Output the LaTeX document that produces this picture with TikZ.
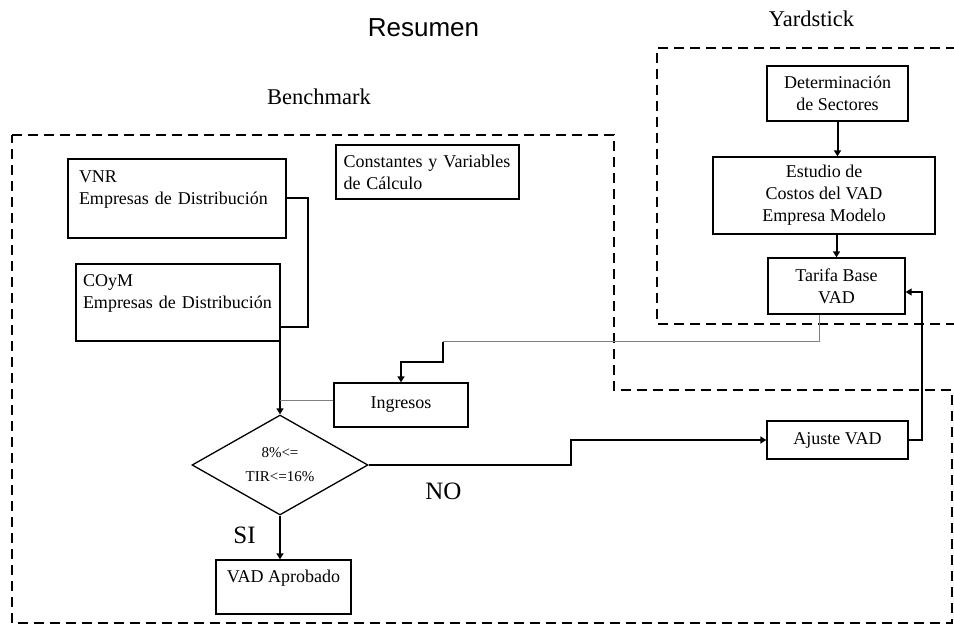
\documentclass[tikz,border=0pt]{standalone}
\usepackage{fontspec}
\setmainfont{Liberation Serif}
\newfontfamily\headfont{Liberation Sans}
\usetikzlibrary{arrows.meta,shapes.geometric}
\definecolor{Ink}{HTML}{000000}
\definecolor{Wire}{HTML}{808080}
\newcommand\boxfont{\fontsize{18}{22}\selectfont}

\begin{document}
\begin{tikzpicture}[x=1pt,y=-1pt,>={Triangle[length=6pt,width=7pt]},block/.style={draw=Ink,line width=1.3pt,inner sep=0pt,font=\boxfont,text=Ink},test/.style={diamond,draw=Ink,line width=1.3pt,inner sep=0pt,aspect=1.76,align=center,font=\fontsize{15}{24}\selectfont},link/.style={->,line width=2pt,draw=Ink},wire/.style={line width=1pt,draw=Wire},zone/.style={draw=Ink,line width=2.5pt,dash pattern=on 10pt off 6pt},heading/.style={anchor=base,font=\fontsize{22.5}{26}\selectfont},answer/.style={anchor=base,font=\fontsize{25}{28}\selectfont}]
\useasboundingbox (0,0) rectangle (954,628);
\draw[zone] (12,135)--(614,135)--(614,390)--(952,390)--(952,623)--(12,623)--cycle;\draw[zone] (956,48)--(657,48)--(657,324)--(956,324);
\node[anchor=base,font=\headfont\fontsize{26}{30}\selectfont] (resumen) at (423.5,37) {Resumen};\node[heading] (yard) at (811.5,27) {Yardstick};\node[heading] (bench) at (319,105) {Benchmark};
% benchmark side
\node[block,minimum width=218pt,minimum height=79pt,text width=196pt,align=left] (vnr) at (177,198.5) {VNR\\Empresas de Distribución\\\mbox{}};\node[block,minimum width=204pt,minimum height=77pt,text width=190pt,align=left] (coym) at (178,302.5) {COyM\\Empresas de Distribución\\\mbox{}};\node[block,minimum width=183pt,minimum height=54pt,text width=168pt,align=left] (const) at (427.5,172) {Constantes y Variables\\de Cálculo};
\node[block,minimum width=134pt,minimum height=44pt] (ingresos) at (401,405) {Ingresos};\node[test,minimum width=176pt,minimum height=100pt] (tir) at (280,465) {8\%<=\\TIR<=16\%};\node[block,minimum width=135pt,minimum height=54pt,align=center] (aprobado) at (283.5,587) {VAD Aprobado\\\mbox{}};
% yardstick side
\node[block,minimum width=141pt,minimum height=55pt,align=center] (sectores) at (837.5,93.5) {Determinación\\de Sectores};\node[block,minimum width=222pt,minimum height=77pt,align=center] (estudio) at (824,195.5) {Estudio de\\Costos del VAD\\Empresa Modelo};\node[block,minimum width=137pt,minimum height=56pt,align=center] (tarifa) at (836.5,286) {Tarifa Base\\VAD};\node[block,minimum width=141pt,minimum height=38pt] (ajuste) at (837.5,440) {Ajuste VAD};
\coordinate (vdrop) at (308,327);\coordinate (join) at (280,327);\coordinate (tdrop) at (819,342);\coordinate (tturn) at (443,342);\coordinate (istep) at (401,362);\coordinate (nostep) at (571,465);\coordinate (back) at (922,292);
\draw[link] (vnr.east) -| (vdrop) -- (join) -- (tir.north);\draw[wire] ([yshift=4pt]ingresos.west) -- ([yshift=4pt]ingresos.west -| join);
\draw[wire] (tarifa.south -| tdrop) -- (tdrop) -- (tturn);\draw[link] (tturn) |- (istep) -- (ingresos.north);
\draw[link] (tir.east) -- (nostep) |- (ajuste.west);\draw[link] (ajuste.east) -| (back) -- ([yshift=-6pt]tarifa.east);
\draw[link] (sectores.south) -- (sectores.south |- estudio.north);\draw[link] (tarifa.north |- estudio.south) -- (tarifa.north);\draw[link] (tir.south) -- (tir.south |- aprobado.north);
\node[answer] (si) at (244.5,543) {SI};\node[answer] (no) at (443.5,500) {NO};
\end{tikzpicture}
\end{document}
